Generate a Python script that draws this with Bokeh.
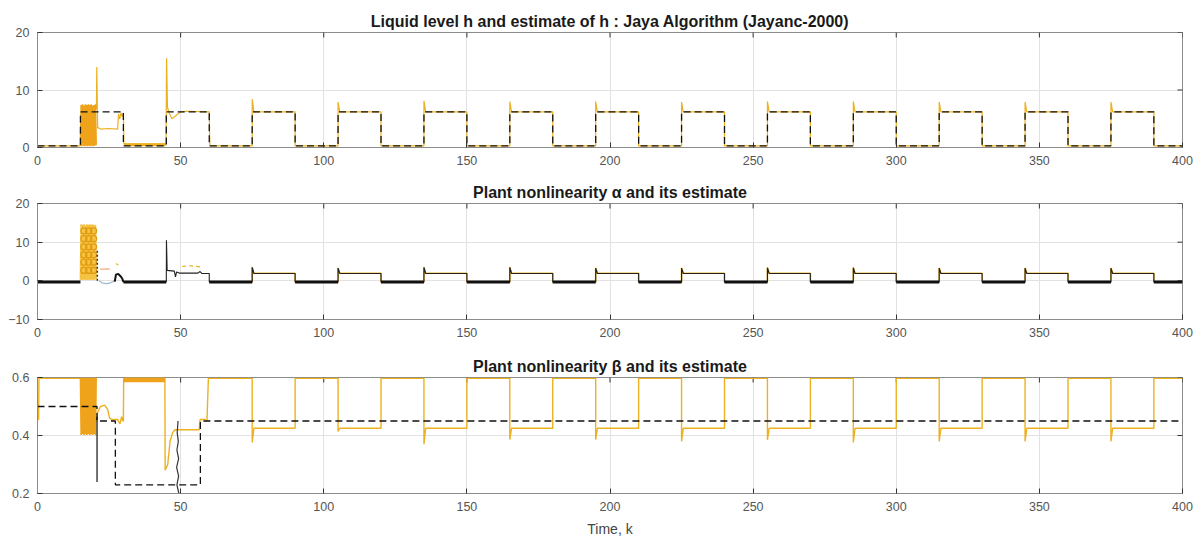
import math
from bokeh.plotting import figure
from bokeh.layouts import column
from bokeh.models import Range1d, FixedTicker
from bokeh.embed import file_html
from bokeh.resources import INLINE

# ---------------- data ----------------
X_TICKS = [0, 50, 100, 150, 200, 250, 300, 350, 400]
H_TICKS = [0, 10, 20]
A_TICKS = [-10, 0, 10, 20]
B_TICKS = [0.2, 0.4, 0.6]

TITLE_H = "Liquid level h and estimate of h : Jaya Algorithm (Jayanc-2000)"
TITLE_A = "Plant nonlinearity \u03b1 and its estimate"
TITLE_B = "Plant nonlinearity \u03b2 and its estimate"
X_LABEL = "Time, k"

# true liquid level h : square wave (segment edges and levels)
K_EDGES = [0, 15, 30, 45, 60, 75, 90, 105, 120, 135, 150, 165, 180, 195,
           210, 225, 240, 255, 270, 285, 300, 315, 330, 345, 360, 375, 390, 400]
H_LEVELS = [0.3, 6.2, 0.3, 6.2, 0.3, 6.2, 0.3, 6.2, 0.3, 6.2, 0.3, 6.2, 0.3, 6.2,
            0.3, 6.2, 0.3, 6.2, 0.3, 6.2, 0.3, 6.2, 0.3, 6.2, 0.3, 6.2, 0.3]

# settled part (k >= 60): rising / falling edges and transient peaks
RISE_K = [75, 105, 135, 165, 195, 225, 255, 285, 315, 345, 375]
FALL_K = [90, 120, 150, 180, 210, 240, 270, 300, 330, 360, 390]
H_PEAK = [8.4, 7.9, 8.1, 8.0, 8.0, 7.9, 8.0, 8.0, 7.9, 7.9, 7.9]
H_LOW, H_HIGH = 0.3, 6.2
ALPHA_PEAK = [3.5, 3.3, 3.5, 3.5, 3.3, 3.3, 3.4, 3.4, 3.3, 3.3, 3.3]
ALPHA_LOW, ALPHA_HIGH = -0.3, 1.9
BETA_DIP = [0.376, 0.414, 0.37, 0.386, 0.386, 0.38, 0.385, 0.376, 0.38, 0.38, 0.38]
BETA_EST_LOW, BETA_EST_HIGH = 0.425, 0.597

# low (thick) phases of the true alpha
LOW_START = [0, 30, 60, 90, 120, 150, 180, 210, 240, 270, 300, 330, 360, 390]
LOW_END = [15, 45, 75, 105, 135, 165, 195, 225, 255, 285, 315, 345, 375, 400]

# early oscillation (k = 15 .. 20.5)
OSC_K = [15.0, 15.25, 15.5, 15.75, 16.0, 16.25, 16.5, 16.75, 17.0, 17.25, 17.5, 17.75,
         18.0, 18.25, 18.5, 18.75, 19.0, 19.25, 19.5, 19.75, 20.0, 20.25, 20.5]
H_OSC = [0.3, 7.4, 0.2, 7.5, 0.3, 7.3, 0.2, 7.5, 0.3, 7.4, 0.2, 7.5,
         0.3, 7.4, 0.2, 7.5, 0.3, 7.3, 0.2, 7.4, 0.3, 7.5, 0.4]
A_OSC = [0.3, 14.6, 0.2, 14.5, 0.3, 14.6, 0.2, 14.4, 0.3, 14.6, 0.2, 14.5,
         0.3, 14.6, 0.2, 14.5, 0.3, 14.6, 0.2, 14.4, 0.3, 14.5, 0.4]
B_OSC = [0.6, 0.402, 0.6, 0.405, 0.6, 0.401, 0.6, 0.404, 0.6, 0.402, 0.6, 0.405,
         0.6, 0.401, 0.6, 0.404, 0.6, 0.402, 0.6, 0.405, 0.6, 0.401, 0.6]
A_MK_K = [16.2, 16.2, 16.2, 16.2, 16.2, 16.2, 17.9, 17.9, 17.9, 17.9, 17.9, 17.9,
          19.6, 19.6, 19.6, 19.6, 19.6, 19.6]
A_MK_V = [2.7, 4.8, 6.7, 8.8, 10.9, 12.9, 2.7, 4.8, 6.7, 8.8, 10.9, 12.9,
          2.7, 4.8, 6.7, 8.8, 10.9, 12.9]

# estimate of h, start-up part (k = 0 .. 75)
HHAT_K = [0, 15, 20.6, 20.7, 21.0, 22.0, 25.0, 28.0, 28.3, 28.7, 29.2, 29.6, 30.0,
          30.2, 44.9, 45.1, 45.4, 46.0, 47.0, 48.5, 50.0, 52.0, 60.0, 60.2, 75.0]
HHAT_V = [0.3, 0.3, 7.0, 14.0, 3.5, 3.2, 3.3, 3.2, 5.8, 5.0, 6.0, 5.4, 6.0,
          0.6, 0.6, 15.5, 7.0, 6.0, 5.0, 5.6, 6.2, 6.3, 6.2, 0.3, 0.3]
HBAND_K = [30.3, 44.8]
HBAND_V = [0.5, 0.5]

# true alpha, start-up pieces
A_HUMP_K = [27.0, 27.4, 28.2, 29.0, 29.6, 30.0]
A_HUMP_V = [-0.2, 1.6, 1.8, 1.2, 0.6, -0.3]
A_KICK_K = [45.0, 45.05, 45.3, 47.8, 48.2, 48.6, 49.5, 56.0, 56.8, 57.4, 60.0, 60.0]
A_KICK_V = [-0.3, 10.5, 2.7, 2.5, 1.0, 2.3, 2.0, 2.0, 2.4, 1.9, 1.9, -0.3]
A_DOT_K = [20.9, 20.9]
A_DOT_V = [0.0, 8.0]
A_PALE_K = [21.5, 22.5, 24.0, 25.5, 26.5, 27.0]
A_PALE_V = [0.0, -0.5, -0.7, -0.5, -0.2, 0.3]
# alpha estimate, start-up pieces
AHAT1_K = [21.8, 25.2]
AHAT1_V = [3.0, 3.1]
AHAT2_K = [27.4, 28.2]
AHAT2_V = [4.5, 4.1]
AHAT3_K = [50.5, 53.0, 57.0]
AHAT3_V = [3.7, 3.9, 3.6]

# true beta
BETA_K = [0, 20.8, 20.8, 27.2, 27.2, 56.9, 56.9, 400]
BETA_V = [0.5, 0.5, 0.45, 0.45, 0.23, 0.23, 0.45, 0.45]
BDROP_K = [20.8, 20.8]
BDROP_V = [0.465, 0.24]
BWAVE_K = [49.4, 48.7, 49.3, 48.6, 49.3, 48.7, 49.2, 48.8, 49.1]
BWAVE_V = [0.2, 0.23, 0.26, 0.29, 0.32, 0.35, 0.38, 0.41, 0.45]
# beta estimate, start-up part (k = 0 .. 75)
BHAT_K = [0, 0.4, 0.5, 15.0, 20.6, 21.0, 22.0, 23.5, 24.5, 25.2, 26.0, 28.0, 28.8,
          29.4, 29.8, 30.0, 30.1, 44.5, 44.6, 45.5, 46.3, 47.2, 48.0, 56.5, 56.8,
          58.5, 59.2, 59.7, 75.0]
BHAT_V = [0.455, 0.455, 0.597, 0.597, 0.45, 0.48, 0.5, 0.505, 0.49, 0.46, 0.455, 0.455, 0.44,
          0.465, 0.45, 0.45, 0.597, 0.597, 0.28, 0.3, 0.38, 0.41, 0.42, 0.42, 0.455,
          0.455, 0.45, 0.597, 0.597]
BBAND_K = [30.1, 44.6]
BBAND_V = [0.592, 0.592]

# ---------------- helpers ----------------
YEL = "#EDB120"
ORG = "#EFA31A"
BLK = "#111111"
FONT = "Liberation Sans"


def step_path(edges, levels):
    xs, ys = [], []
    for i, v in enumerate(levels):
        xs += [edges[i], edges[i + 1]]
        ys += [v, v]
    return xs, ys


def settled_path(x0, y0, rises, falls, peaks, low, high, end):
    xs, ys = list(x0), list(y0)
    for r, f, pk in zip(rises, falls, peaks):
        xs += [r, r, r + 0.6, f, f]
        ys += [low, pk, high, high, low]
    xs.append(end)
    ys.append(low)
    return xs, ys


def make_fig(title, y0, y1, yticks, height, top, bottom, xlabel=None):
    p = figure(width=1200, height=height, x_range=Range1d(0, 400),
               y_range=Range1d(y0, y1), output_backend="svg",
               toolbar_location=None, min_border_left=37, min_border_right=18,
               min_border_top=top, min_border_bottom=bottom, title=title)
    p.title.align = "center"
    p.title.text_font = FONT
    p.title.text_font_style = "bold"
    p.title.text_font_size = "16px"
    p.title.text_color = "#1a1a1a"
    p.title.standoff = 6
    p.outline_line_color = "#8c8c8c"
    p.background_fill_color = "white"
    p.border_fill_color = "white"
    for ax, ticks in ((p.xaxis[0], X_TICKS), (p.yaxis[0], yticks)):
        ax.ticker = FixedTicker(ticks=ticks)
        ax.major_tick_in = 5
        ax.major_tick_out = 0
        ax.minor_tick_line_color = None
        ax.axis_line_color = "#8c8c8c"
        ax.major_tick_line_color = "#333333"
        ax.major_label_text_font = FONT
        ax.major_label_text_font_size = "12.5px"
        ax.major_label_text_color = "#555555"
        ax.major_label_standoff = 8
    if xlabel:
        p.xaxis.axis_label = xlabel
        p.xaxis.axis_label_text_font = FONT
        p.xaxis.axis_label_text_font_size = "14px"
        p.xaxis.axis_label_text_font_style = "normal"
        p.xaxis.axis_label_text_color = "#444444"
        p.xaxis.axis_label_standoff = 7
    p.xgrid.ticker = FixedTicker(ticks=X_TICKS)
    p.ygrid.ticker = FixedTicker(ticks=yticks)
    p.xgrid.grid_line_color = "#e2e2e2"
    p.ygrid.grid_line_color = "#e2e2e2"
    # inward ticks on the top and right edges of the box (half clipped by the frame)
    p.scatter(X_TICKS, [y1] * len(X_TICKS), marker="dash", angle=math.pi / 2,
              size=10, line_color="#333333", line_width=1)
    p.scatter([400] * len(yticks), yticks, marker="dash", size=10,
              line_color="#333333", line_width=1)
    return p


# ---------------- plot 1 : h ----------------
p1 = make_fig(TITLE_H, 0, 20, H_TICKS, 175, 32, 28)
hx, hy = settled_path(HHAT_K, HHAT_V, RISE_K, FALL_K, H_PEAK, H_LOW, H_HIGH, 400)
p1.line(hx, hy, color=YEL, line_width=1.2)
p1.line(HBAND_K, HBAND_V, color=YEL, line_width=3)
p1.line(OSC_K, H_OSC, color=ORG, line_width=1.6)
tx, ty = step_path(K_EDGES, H_LEVELS)
p1.line(tx, ty, color=BLK, line_width=1.3, line_dash="7 4")

# ---------------- plot 2 : alpha ----------------
p2 = make_fig(TITLE_A, -10, 20, A_TICKS, 172, 28, 28)
ax_, ay_ = settled_path([60.0], [ALPHA_LOW], RISE_K, FALL_K, ALPHA_PEAK,
                        ALPHA_LOW, ALPHA_HIGH + 0.05, 400)
p2.line(ax_, ay_, color=YEL, line_width=1.6)
p2.line(OSC_K, A_OSC, color="#F5C242", line_width=1.6)
p2.scatter(A_MK_K, A_MK_V, marker="circle", size=6, fill_color=None,
           line_color="#E09A10", line_width=1.2)
p2.line(AHAT1_K, AHAT1_V, color="#F0A070", line_width=1.2)
p2.line(AHAT2_K, AHAT2_V, color=YEL, line_width=1.2)
p2.line(AHAT3_K, AHAT3_V, color=YEL, line_width=1.2, line_dash="4 3")
p2.line(A_PALE_K, A_PALE_V, color="#9fb8d0", line_width=1.3)
p2.line(A_DOT_K, A_DOT_V, color="#333333", line_width=1.5, line_dash="2 2")
p2.line(A_HUMP_K, A_HUMP_V, color=BLK, line_width=2)
p2.line(A_KICK_K, A_KICK_V, color="#222222", line_width=1.1)
bx_, by_ = settled_path([60.0], [ALPHA_LOW], RISE_K, FALL_K, ALPHA_PEAK,
                        ALPHA_LOW, ALPHA_HIGH, 400)
p2.line(bx_, by_, color="#222222", line_width=1.1)
p2.segment(x0=LOW_START, y0=[ALPHA_LOW] * len(LOW_START), x1=LOW_END,
           y1=[ALPHA_LOW] * len(LOW_END), color=BLK, line_width=3)

# ---------------- plot 3 : beta ----------------
p3 = make_fig(TITLE_B, 0.2, 0.6, B_TICKS, 194, 30, 48, xlabel=X_LABEL)
bhx, bhy = settled_path(BHAT_K, BHAT_V, RISE_K, FALL_K, BETA_DIP,
                        BETA_EST_HIGH, BETA_EST_LOW, 400)
p3.line(bhx, bhy, color=YEL, line_width=1.4)
p3.line(BBAND_K, BBAND_V, color=ORG, line_width=5)
p3.line(OSC_K, B_OSC, color=ORG, line_width=1.6)
p3.line(BETA_K, BETA_V, color=BLK, line_width=1.3, line_dash="7 4")
p3.line(BDROP_K, BDROP_V, color=BLK, line_width=1.2)
p3.line(BWAVE_K, BWAVE_V, color="#333333", line_width=1.2)

layout = column(p1, p2, p3, spacing=0)
open("out.html", "w").write(file_html(layout, INLINE))
